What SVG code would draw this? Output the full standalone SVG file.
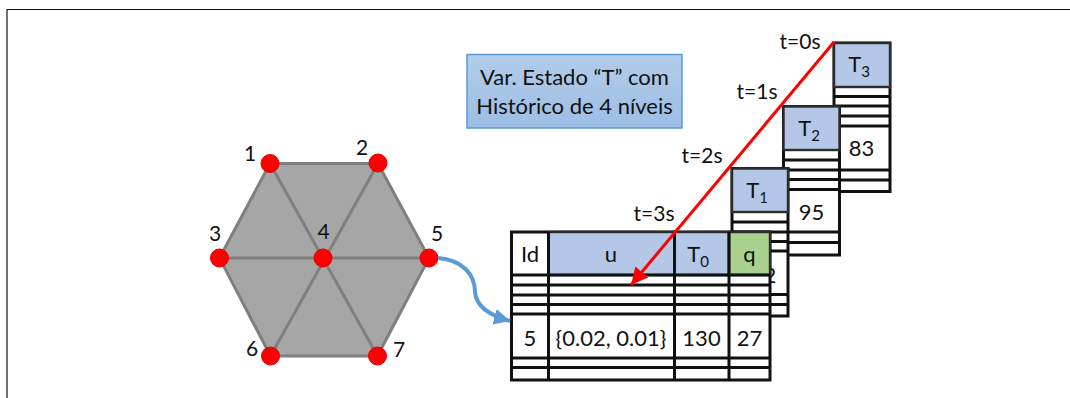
<svg xmlns="http://www.w3.org/2000/svg" width="1070" height="398" viewBox="0 0 1070 398">
<style>
text{font-family:"Lato","Carlito","Liberation Sans",sans-serif;font-size:22px;fill:#111;text-anchor:middle}
.lbl{font-size:21px}
.sub{font-size:15px}
.t{fill:#fff;stroke:#111;stroke-width:3}
.rule{stroke:#111;stroke-width:3;fill:none}
.hdr{fill:#b4c7e7;stroke:#2b2b2b;stroke-width:2.4}
.grn{fill:#a9d18e;stroke:#2b2b2b;stroke-width:2.4}
.edge{stroke:#7f7f7f;stroke-width:3;fill:none}
.node{fill:#ff0000;stroke:#e00000;stroke-width:1}
</style>
<defs>
<linearGradient id="boxg" x1="0" y1="0" x2="0" y2="1"><stop offset="0" stop-color="#b3cdea"/><stop offset="1" stop-color="#9cbde5"/></linearGradient>
<marker id="ra" markerUnits="userSpaceOnUse" markerWidth="20" markerHeight="20" refX="17" refY="8.500" orient="auto"><path d="M0 0L17 8.500L0 17z" fill="#ff0000"/></marker>
<marker id="ba" markerUnits="userSpaceOnUse" markerWidth="20" markerHeight="18" refX="16" refY="8" orient="auto"><path d="M0 0L16 8L0 16z" fill="#5b9bd5"/></marker>
</defs>
<rect width="1070" height="398" fill="#fff"/>
<path d="M1070 9.500H7V398" fill="none" stroke="#111" stroke-width="1.200"/>

<g id="box-legenda">
<rect x="467" y="54.500" width="215" height="73.500" fill="url(#boxg)" stroke="#5b9bd5" stroke-width="1.500"/>
<text x="574.500" y="84.500">Var. Estado “T” com</text>
<text x="574.500" y="113.500">Histórico de 4 níveis</text>
</g>

<g id="tabela-t3">
<rect class="t" x="834" y="43" width="56" height="148.500"/>
<rect class="hdr" x="834" y="43" width="56" height="44"/>
<path class="rule" d="M834 96.500H890M834 106H890M834 116H890M834 126H890M834 170H890M834 180H890"/>
<text x="859" y="72">T<tspan class="sub" dy="5">3</tspan></text>
<text x="861.500" y="156">83</text>
</g>
<g id="tabela-t2">
<rect class="t" x="783.500" y="106.500" width="56" height="148.500"/>
<rect class="hdr" x="783.500" y="106.500" width="56" height="43.500"/>
<path class="rule" d="M783.500 160H839.500M783.500 170H839.500M783.500 179.500H839.500M783.500 189.500H839.500M783.500 232H839.500M783.500 242.500H839.500"/>
<text x="809" y="136">T<tspan class="sub" dy="5">2</tspan></text>
<text x="811.500" y="220">95</text>
</g>
<g id="tabela-t1">
<rect class="t" x="732" y="168.500" width="56" height="147.500"/>
<rect class="hdr" x="732" y="168.500" width="56" height="43.500"/>
<path class="rule" d="M732 222H788M732 232H788M732 241.500H788M732 251H788M732 294.500H788M732 304.500H788"/>
<text x="757" y="198">T<tspan class="sub" dy="5">1</tspan></text>
<text x="770" y="283">2</text>
</g>
<g id="tabela-t0">
<rect class="t" x="511.500" y="232" width="258.500" height="148"/>
<rect class="hdr" x="548.500" y="232" width="126" height="43"/>
<rect class="hdr" x="674.500" y="232" width="54.500" height="43"/>
<rect class="grn" x="729" y="232" width="41" height="43"/>
<path class="rule" d="M511.500 275H770M511.500 285H770M511.500 295H770M511.500 304.500H770M511.500 314H770M511.500 358H770M511.500 367.500H770M548.500 232V380M674.500 232V380M729 232V380"/>
<text x="530" y="262">Id</text>
<text x="611" y="262">u</text>
<text x="698" y="262">T<tspan class="sub" dy="5">0</tspan></text>
<text x="749.500" y="262">q</text>
<text x="530" y="346">5</text>
<text x="611" y="346">{0.02, 0.01}</text>
<text x="701.500" y="346">130</text>
<text x="749.500" y="346">27</text>
</g>

<g id="malha">
<path d="M270 163.500H378L429 258L377.500 356H270.500L219.500 258z" fill="#a6a6a6" stroke="#7f7f7f" stroke-width="3"/>
<path class="edge" d="M219.500 258H429M270 163.500L377.500 356M378 163.500L270.500 356"/>
</g>
<g id="no-1"><circle class="node" cx="270" cy="163.500" r="9"/><text class="lbl" x="250" y="161">1</text></g>
<g id="no-2"><circle class="node" cx="378" cy="163" r="9"/><text class="lbl" x="362" y="155">2</text></g>
<g id="no-3"><circle class="node" cx="219.500" cy="258" r="9"/><text class="lbl" x="215" y="241">3</text></g>
<g id="no-4"><circle class="node" cx="323" cy="258" r="9"/><text class="lbl" x="323.500" y="239">4</text></g>
<g id="no-5"><circle class="node" cx="429" cy="258" r="9"/><text class="lbl" x="437" y="241">5</text></g>
<g id="no-6"><circle class="node" cx="270.500" cy="356" r="9"/><text class="lbl" x="252" y="356">6</text></g>
<g id="no-7"><circle class="node" cx="377.500" cy="356" r="9"/><text class="lbl" x="399" y="357">7</text></g>

<g id="rotulos-tempo">
<text class="lbl" x="800" y="49">t=0s</text>
<text class="lbl" x="757" y="99">t=1s</text>
<text class="lbl" x="702" y="163">t=2s</text>
<text class="lbl" x="654" y="221">t=3s</text>
</g>

<g id="conectores">
<path d="M438 258C462 260 475 274 475 292C476 306 488 315 510 321" fill="none" stroke="#5b9bd5" stroke-width="4" marker-end="url(#ba)"/>
<path d="M834 42L631 285" fill="none" stroke="#ff0000" stroke-width="3" marker-end="url(#ra)"/>
</g>
</svg>
